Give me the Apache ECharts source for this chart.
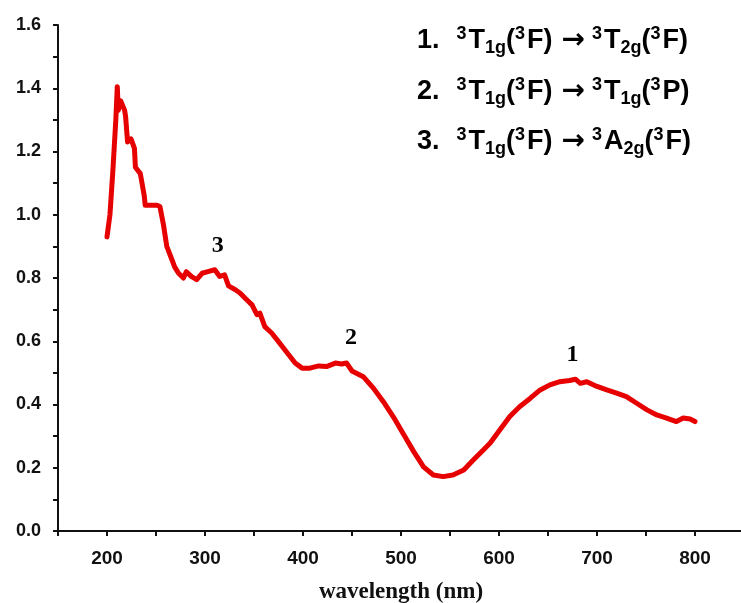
<!DOCTYPE html>
<html>
<head>
<meta charset="utf-8">
<script src="https://cdn.jsdelivr.net/npm/echarts@6/dist/echarts.min.js"></script>
<style>
  html, body { margin: 0; padding: 0; background: #fff; }
  #main { width: 741px; height: 603px; }
</style>
</head>
<body>
<div id="main"></div>
<script>
// spectrum
const wavelength = [
  200, 203, 206, 209, 210.5, 211.5, 214, 218, 219, 221, 224.5, 228, 229, 234, 238, 239, 251, 254, 257.5, 261,
  266, 269, 273, 278, 281, 286, 291.5, 297, 303, 310, 315, 320, 324, 331, 336, 341, 348, 353, 356, 361,
  368, 375, 383, 392, 399, 407, 416, 424, 433, 439.5, 444.5, 450, 461.5, 472, 482, 492, 502, 513, 523, 533,
  543, 553, 564, 574, 584, 591, 601, 611, 621, 632, 642, 652, 662, 672, 678, 683, 689.5, 700, 710, 720,
  730, 740.5, 751, 761, 771, 781, 788, 795, 800
];
const absorbance = [
  0.93, 1.00, 1.14, 1.30, 1.405, 1.33, 1.36, 1.33, 1.31, 1.23, 1.24, 1.21, 1.15, 1.13, 1.06, 1.03, 1.03, 1.026, 0.97, 0.90,
  0.86, 0.835, 0.815, 0.80, 0.82, 0.805, 0.795, 0.815, 0.82, 0.826, 0.805, 0.81, 0.775, 0.763, 0.752, 0.736, 0.715, 0.684, 0.689, 0.646,
  0.626, 0.599, 0.567, 0.531, 0.515, 0.515, 0.522, 0.52, 0.531, 0.528, 0.531, 0.506, 0.488, 0.451, 0.409, 0.362, 0.309, 0.251, 0.203, 0.177,
  0.172, 0.177, 0.193, 0.225, 0.256, 0.278, 0.32, 0.362, 0.393, 0.42, 0.446, 0.462, 0.472, 0.476, 0.48, 0.467, 0.472, 0.457, 0.446, 0.436,
  0.425, 0.404, 0.383, 0.367, 0.357, 0.346, 0.357, 0.354, 0.346
];

// band labels on the curve (point sits just under the digit)
const bandX = [313, 449, 675];
const bandY = [0.862, 0.572, 0.518];
const bandText = ['3', '2', '1'];

// transitions: number, final term letter, final subscript, final parent term
const transNum = ['1.', '2.', '3.'];
const transTerm = ['T', 'T', 'A'];
const transSub = ['2g', '1g', '2g'];
const transParent = ['F', 'P', 'F'];

const chart = echarts.init(document.getElementById('main'));

const lineData = wavelength.map((x, i) => [x, absorbance[i]]);
const bandData = bandX.map((x, i) => ({ value: [x, bandY[i]], name: bandText[i] }));

const base = { fontWeight: 'bold', fontFamily: 'Liberation Sans', color: '#111', verticalAlign: 'middle' };
const rich = {
  n: Object.assign({}, base, { fontSize: 27, lineHeight: 40, padding: [0, 17, 0, 0] }),
  m: Object.assign({}, base, { fontSize: 27, lineHeight: 40 }),
  sup: Object.assign({}, base, { fontSize: 18, lineHeight: 18, padding: [0, 2, 13, 0] }),
  sub: Object.assign({}, base, { fontSize: 18, lineHeight: 18, padding: [15, 0, 0, 0] }),
  arr: Object.assign({}, base, { fontSize: 28, fontFamily: 'DejaVu Sans', lineHeight: 40, padding: [0, 7, 0, 9] })
};

const rowTops = [24, 75, 125];
const legendGraphics = transNum.map((num, i) => ({
  type: 'text',
  left: 417,
  top: rowTops[i],
  style: {
    text: '{n|' + num + '}{sup|3}{m|T}{sub|1g}{m|(}{sup|3}{m|F)}{arr|→}{sup|3}{m|' + transTerm[i] + '}{sub|' + transSub[i] + '}{m|(}{sup|3}{m|' + transParent[i] + ')}',
    rich: rich
  }
}));

const option = {
  animation: false,
  backgroundColor: '#fff',
  grid: {
    left: 58,
    top: 25,
    width: 686,
    height: 506,
    outerBoundsMode: 'none'
  },
  xAxis: {
    type: 'value',
    min: 150,
    max: 850,
    interval: 50,
    name: 'wavelength (nm)',
    nameLocation: 'middle',
    nameGap: 50,
    nameTextStyle: { fontFamily: 'Liberation Serif', fontWeight: 'bold', fontSize: 23, color: '#111' },
    axisLine: { onZero: false, lineStyle: { color: '#111', width: 2 } },
    axisTick: { inside: false, length: 5, lineStyle: { color: '#111', width: 2 } },
    axisLabel: {
      margin: 18,
      fontFamily: 'Liberation Sans', fontWeight: 'bold', fontSize: 19, color: '#111',
      formatter: v => (v % 100 === 0 && v >= 200 && v <= 800) ? String(v) : ''
    },
    splitLine: { show: false }
  },
  yAxis: {
    type: 'value',
    min: 0,
    max: 1.6,
    interval: 0.1,
    axisLine: { show: true, lineStyle: { color: '#111', width: 2 } },
    axisTick: { show: true, inside: false, length: 5, lineStyle: { color: '#111', width: 2 } },
    axisLabel: {
      margin: 17,
      fontFamily: 'Liberation Sans', fontWeight: 'bold', fontSize: 18, color: '#111',
      formatter: v => (Math.round(v * 10) % 2 === 0) ? v.toFixed(1) : ''
    },
    splitLine: { show: false }
  },
  series: [
    {
      type: 'line',
      data: lineData,
      showSymbol: false,
      smooth: false,
      lineStyle: { color: '#e60000', width: 5, join: 'round', cap: 'round' },
      z: 2
    },
    {
      type: 'scatter',
      data: bandData,
      symbolSize: 1,
      itemStyle: { color: '#fff', opacity: 1 },
      label: {
        show: true,
        position: 'top',
        distance: 0,
        formatter: p => p.name,
        fontFamily: 'Liberation Serif', fontWeight: 'bold', fontSize: 24,
        color: '#000', opacity: 1, textBorderWidth: 0
      },
      z: 3
    }
  ],
  graphic: legendGraphics
};

chart.setOption(option);
</script>
</body>
</html>
